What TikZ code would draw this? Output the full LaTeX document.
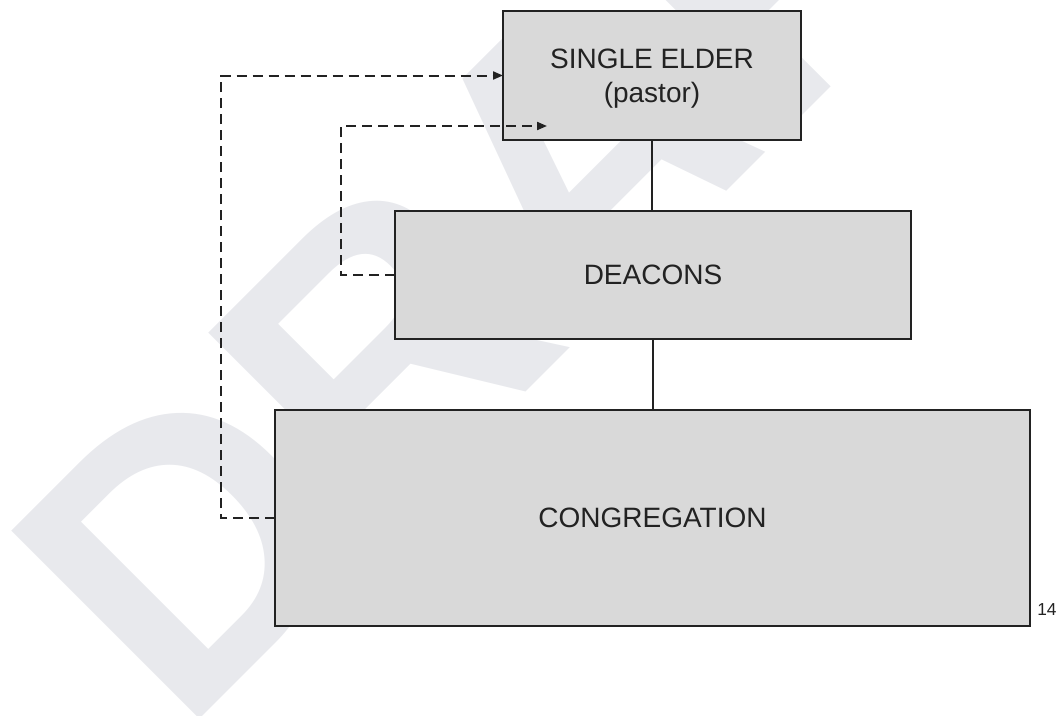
\documentclass[tikz,border=0pt]{standalone}
\usepackage{fontspec}
\setmainfont{Liberation Sans}
\usetikzlibrary{arrows.meta}
\definecolor{wmark}{RGB}{232,233,237}
\definecolor{boxfill}{RGB}{217,217,217}
\definecolor{ink}{RGB}{34,34,34}
\begin{document}
\begin{tikzpicture}[x=0.75pt,y=-0.75pt,
  wm/.style={text=wmark,font=\bfseries\fontsize{290}{290}\selectfont,inner sep=0,outer sep=0,anchor=base west,rotate=45},
  box/.style={draw=ink,fill=boxfill,line width=1.5pt,inner sep=0,outer sep=0,text=ink,
    font=\fontsize{21}{25.5}\selectfont,align=center},
  boxlabel/.style={text=ink,inner sep=0,outer sep=0,font=\fontsize{21}{25.5}\selectfont,align=center},
  link/.style={draw=ink,line width=1.5pt},
  backlink/.style={draw=ink,line width=1.5pt,dash pattern=on 7.5pt off 4.5pt,
    -{Triangle[length=7.5pt,width=6pt]}},
  pagenum/.style={text=ink,font=\fontsize{13}{13}\selectfont,inner sep=0,anchor=base west}]
\useasboundingbox (0,0) rectangle (1058,715);
% watermark
\begin{scope}
  \clip (0,0) rectangle (1058,715);
  \node[wm] (wmtext) at (181,737) {DRAFT};
\end{scope}
% hierarchy boxes
\node[box,minimum width=223.5pt,minimum height=96.75pt] (elder) at (652,75.5) {};
\node[boxlabel] (elderlabel) at ([yshift=-2.6pt]elder.center) {SINGLE ELDER\\(pastor)};
\node[box,minimum width=387pt,minimum height=96pt] (deacons) at (653,275) {DEACONS};
\node[box,minimum width=566.25pt,minimum height=162pt] (cong) at (652.5,518) {CONGREGATION};
% solid links
\draw[link] (elder.south) -- (elder.south |- deacons.north);
\draw[link] (deacons.south) -- (deacons.south |- cong.north);
% dashed feedback paths
\coordinate (bendA) at (221,518);
\coordinate (bendB) at (341,275);
\coordinate (tipB) at (547,126);
\draw[backlink] (cong.west) -- (bendA) |- (elder.west);
\draw[backlink] (deacons.west) -- (bendB) |- (tipB);
% page number
\node[pagenum] (page) at (1037,615) {14};
\end{tikzpicture}
\end{document}
